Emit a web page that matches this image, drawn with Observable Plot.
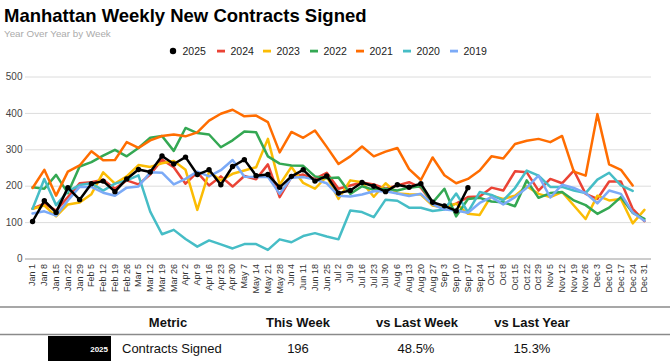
<!DOCTYPE html>
<html><head><meta charset="utf-8">
<script src="https://cdn.jsdelivr.net/npm/d3@7"></script>
<script src="https://cdn.jsdelivr.net/npm/@observablehq/plot@0.6"></script>
<style>
body{margin:0;background:#fff;font-family:"Liberation Sans",Arial,sans-serif;}
#wrap{position:relative;width:670px;height:361px;overflow:hidden;background:#fff;}
#chart{position:absolute;left:0;top:60px;}
#overlay{position:absolute;left:0;top:0;pointer-events:none;}
</style></head><body>
<div id="wrap"><div id="chart"></div><svg id="overlay" width="670" height="361"></svg></div>
<script>
const weeks = ["Jan 1","Jan 8","Jan 15","Jan 22","Jan 29","Feb 5","Feb 12","Feb 19","Feb 26","Mar 5","Mar 12","Mar 19","Mar 26","Apr 2","Apr 9","Apr 16","Apr 23","Apr 30","May 7","May 14","May 21","May 28","Jun 4","Jun 11","Jun 18","Jun 25","Jul 2","Jul 9","Jul 16","Jul 23","Jul 30","Aug 6","Aug 13","Aug 20","Aug 27","Sep 3","Sep 10","Sep 17","Sep 24","Oct 1","Oct 8","Oct 15","Oct 22","Oct 29","Nov 5","Nov 12","Nov 19","Nov 26","Dec 3","Dec 10","Dec 17","Dec 24","Dec 31"];
const yTicks = [0,100,200,300,400,500];
const years = ["2025","2024","2023","2022","2021","2020","2019"];
const colors = ["#000000","#ea4335","#fbbc04","#34a853","#ff6d01","#46bdc6","#7baaf7"];

const y2025 = [103,160,128,196,163,207,214,185,220,246,239,283,261,280,232,245,204,254,273,229,232,197,227,245,214,228,181,188,210,200,185,204,197,207,156,146,132,196];
const y2024 = [138,152,133,170,208,211,218,193,216,205,232,273,252,207,238,202,227,199,228,219,260,170,225,232,220,237,193,202,210,205,193,202,211,196,153,142,152,170,172,196,188,241,238,188,220,208,243,179,165,213,213,138,104];
const y2023 = [138,147,117,150,155,178,238,207,227,258,253,263,269,245,135,240,216,234,243,252,330,204,253,209,193,227,165,216,211,171,208,180,178,177,147,141,152,124,121,174,165,174,200,179,170,184,147,110,174,161,165,98,135];
const y2022 = [197,193,231,181,254,266,284,300,282,305,333,338,297,360,346,342,307,326,350,348,282,262,257,256,227,222,224,179,200,190,193,188,196,200,155,193,117,165,168,158,156,145,216,168,181,184,161,148,124,141,170,127,110];
const y2021 = [195,245,174,240,257,296,271,272,321,305,326,338,342,337,348,380,399,410,392,394,376,293,349,333,353,308,261,282,309,282,295,305,247,217,279,230,208,220,243,282,276,316,325,330,321,338,240,229,398,260,245,202,null];
const y2020 = [138,220,148,186,203,208,188,207,216,230,130,68,80,55,34,51,40,29,41,41,25,54,46,63,71,62,54,133,129,115,163,160,141,141,132,136,180,129,184,176,161,195,243,229,198,198,188,181,218,237,202,187,null];
const y2019 = [125,131,119,161,198,198,182,174,196,199,238,237,205,220,240,227,244,272,226,225,226,179,223,225,218,208,174,172,177,186,186,180,173,179,150,136,133,127,154,170,150,170,196,229,169,204,195,181,153,188,179,128,105];

const tableHeaders = ["Metric","This Week","vs Last Week","vs Last Year"];
const tableRow = {year:"2025", metric:"Contracts Signed", thisWeek:"196", vsLastWeek:"48.5%", vsLastYear:"15.3%"};

const seriesValues = {"2025":y2025,"2024":y2024,"2023":y2023,"2022":y2022,"2021":y2021,"2020":y2020,"2019":y2019};
const drawOrder = ["2024","2023","2022","2021","2020","2019","2025"];
const rows = drawOrder.flatMap(yr => seriesValues[yr].map((v,i)=>({week:weeks[i], value:v, year:yr})).filter(d=>d.value!=null));

const chart = Plot.plot({
  width:670, height:240,
  marginLeft:25, marginRight:19, marginTop:16.5, marginBottom:41.5,
  style:{fontFamily:"Liberation Sans, Arial, sans-serif", background:"transparent", overflow:"visible"},
  x:{type:"point", domain:weeks, padding:0.6},
  y:{domain:[0,500]},
  color:{domain:years, range:colors},
  marks:[
    Plot.gridY(yTicks.filter(t=>t>0), {stroke:"#dcdcdc", strokeOpacity:1}),
    Plot.ruleY([0], {stroke:"#9a9a9a"}),
    Plot.axisY(yTicks, {tickSize:0, tickPadding:3, fontSize:10, fill:"#444", label:null}),
    Plot.axisX({tickSize:0, tickRotate:-90, tickPadding:5, fontSize:9, fill:"#333", label:null}),
    ...drawOrder.map(yr => Plot.line(rows.filter(d=>d.year===yr), {x:"week", y:"value", stroke:"year", strokeWidth:2.5, strokeLinejoin:"round"})),
    Plot.dot(rows.filter(d=>d.year==="2025"), {x:"week", y:"value", r:2.7, fill:"#000", stroke:"none"})
  ]
});
document.getElementById("chart").appendChild(chart);

const svg = d3.select("#overlay");
svg.append("text").attr("x",4).attr("y",21.5).attr("font-size",18.5).attr("font-weight","bold").attr("fill","#000")
  .text("Manhattan Weekly New Contracts Signed");
svg.append("text").attr("x",4).attr("y",36.5).attr("font-size",9.8).attr("fill","#ababab")
  .text("Year Over Year by Week");

// legend
const legX = [173,221,267,314,360,407,454];
years.forEach((yr,i)=>{
  const cx = legX[i];
  if (yr==="2025") svg.append("circle").attr("cx",cx).attr("cy",51).attr("r",3.2).attr("fill","#000");
  else svg.append("rect").attr("x",cx-4).attr("y",49.7).attr("width",8).attr("height",2.8).attr("fill",colors[i]);
  svg.append("text").attr("x",cx+9.5).attr("y",55).attr("font-size",10.5).attr("fill","#222").text(yr);
});

// table
svg.append("line").attr("x1",0).attr("x2",670).attr("y1",307).attr("y2",307).attr("stroke","#8a8a8a").attr("stroke-width",1.3);
svg.append("line").attr("x1",0).attr("x2",670).attr("y1",334.5).attr("y2",334.5).attr("stroke","#8a8a8a").attr("stroke-width",1.3);
const hx = [168,298,417,532];
tableHeaders.forEach((h,i)=>svg.append("text").attr("x",hx[i]).attr("y",327).attr("text-anchor","middle")
  .attr("font-size",13).attr("font-weight","bold").attr("fill","#111").text(h));
svg.append("rect").attr("x",48).attr("y",336).attr("width",63).attr("height",25).attr("fill","#000");
svg.append("text").attr("x",108).attr("y",352).attr("text-anchor","end").attr("font-size",8).attr("font-weight","bold").attr("fill","#fff").text(tableRow.year);
svg.append("text").attr("x",122).attr("y",353).attr("font-size",13).attr("fill","#111").text(tableRow.metric);
[[298,tableRow.thisWeek],[416,tableRow.vsLastWeek],[532,tableRow.vsLastYear]].forEach(([x,t])=>
  svg.append("text").attr("x",x).attr("y",353).attr("text-anchor","middle").attr("font-size",13).attr("fill","#111").text(t));
</script>
</body></html>
